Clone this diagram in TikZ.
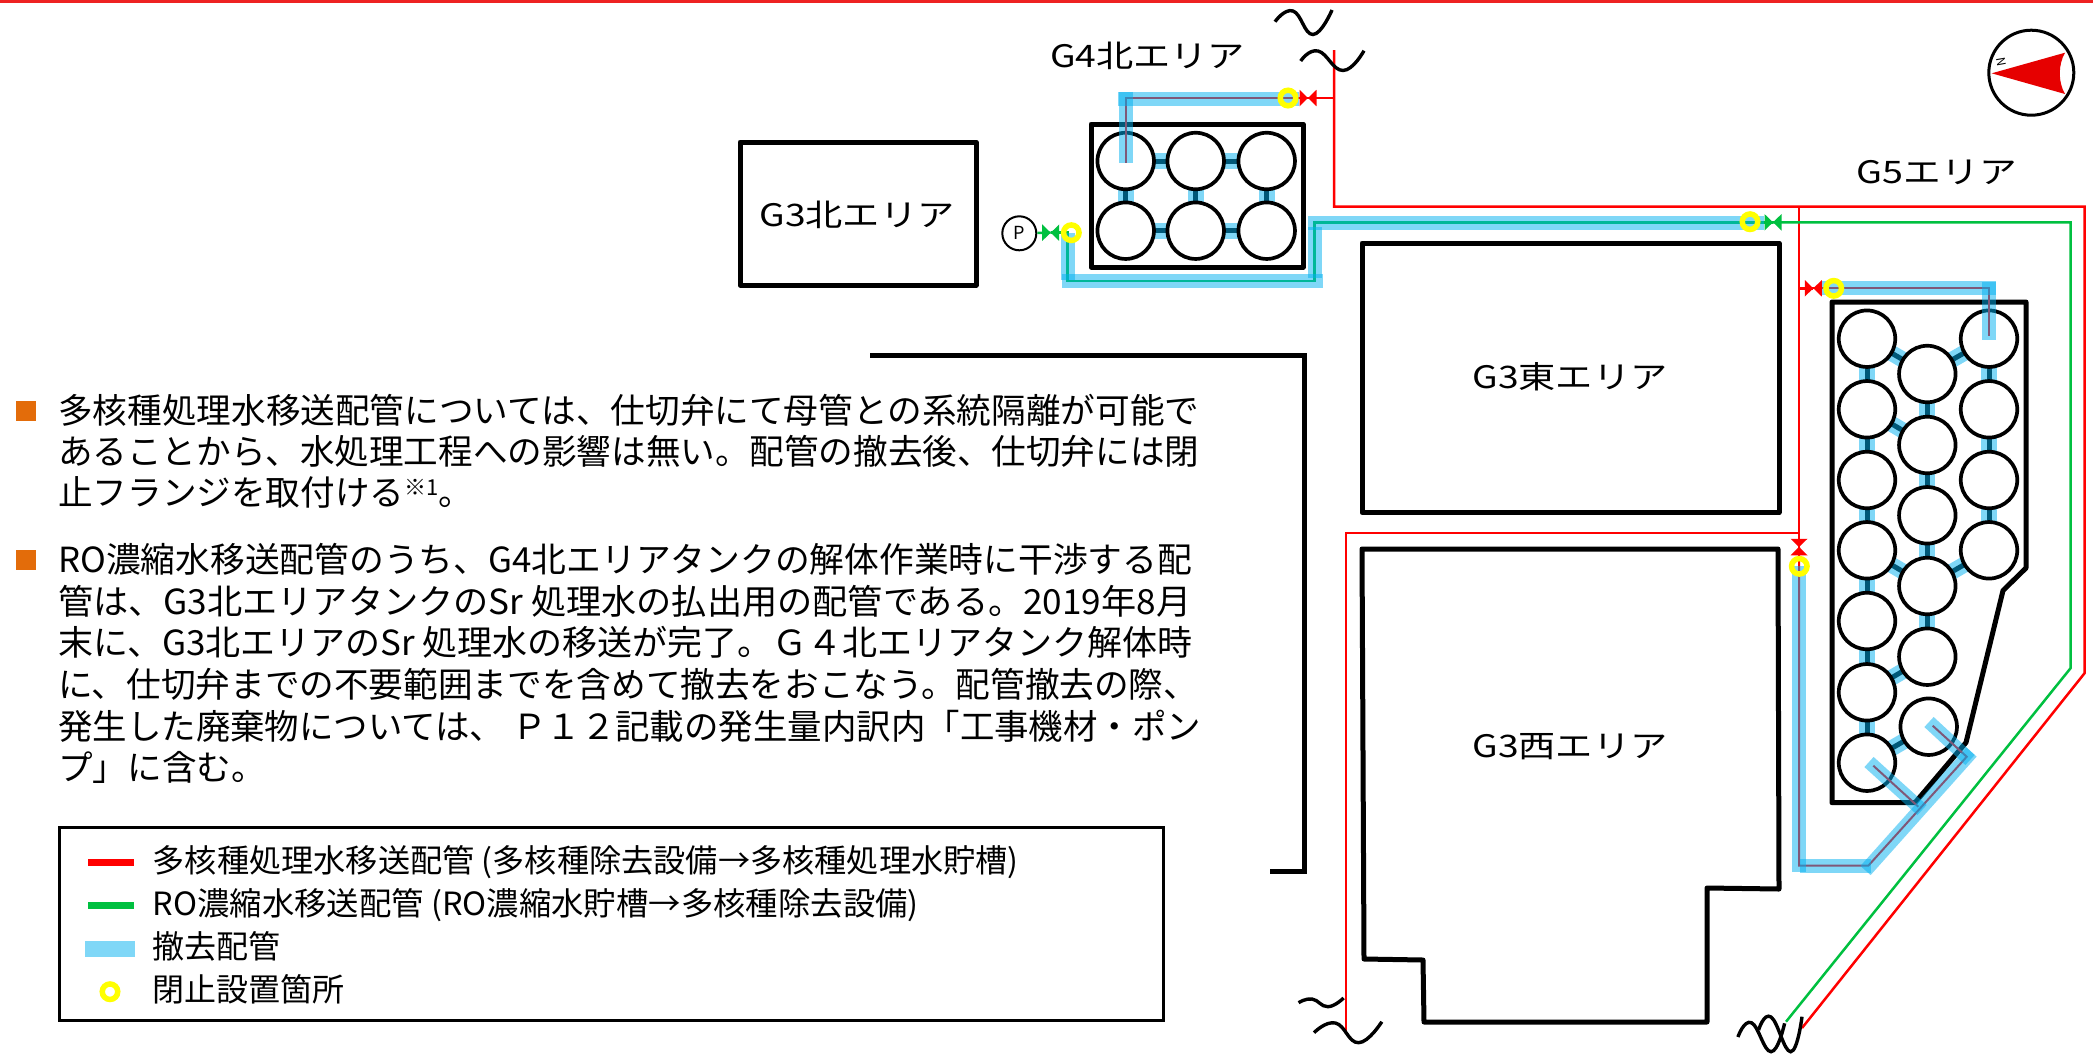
\documentclass[tikz,border=0pt]{standalone}
\usepackage{graphicx}
\usepackage{fontspec}
\setmainfont{Noto Sans CJK JP}
\usetikzlibrary{calc}
\definecolor{topred}{HTML}{EE2222}
\definecolor{pipered}{HTML}{FF0000}
\definecolor{pipegreen}{HTML}{00C040}
\definecolor{barblue}{HTML}{00B0F0}
\definecolor{ringyellow}{HTML}{FFFF00}
\definecolor{bulletorange}{HTML}{E36C0A}
\definecolor{compassred}{HTML}{E60000}
\newcommand{\bodyfont}{\fontsize{34.6}{40}\selectfont}
\newcommand{\legendfont}{\fontsize{32}{36}\selectfont}
\newcommand{\areafont}{\fontsize{31}{36}\selectfont}
\newcommand{\fitw}[2]{\resizebox{#1pt}{\height}{#2}}
\tikzset{
  x=1pt,y=-1pt,
  wall/.style={draw=black,line width=5pt,line join=round},
  tank/.style={circle,draw=black,fill=white,line width=3.7pt,minimum size=56.5pt,inner sep=0pt},
  linkcore/.style={draw=black,line width=5pt},
  linkbar/.style={draw=barblue,opacity=.5,line width=16pt},
  bar/.style={draw=barblue,opacity=.5,line width=13.7pt},
  redpipe/.style={draw=pipered,line width=2.5pt,line join=miter},
  greenpipe/.style={draw=pipegreen,line width=2.5pt,line join=miter},
  wave/.style={draw=black,line width=3.4pt},
  ring/.style={circle,draw=ringyellow,line width=5.5pt,minimum size=15.5pt,inner sep=0pt},
  valveH/.style={minimum width=17pt,minimum height=16.5pt,inner sep=0pt,outer sep=0pt,
    path picture={\fill[#1] (path picture bounding box.north west)--(path picture bounding box.south east)--(path picture bounding box.north east)--(path picture bounding box.south west)--cycle;}},
  valveV/.style={minimum width=17pt,minimum height=16.5pt,inner sep=0pt,outer sep=0pt,
    path picture={\fill[#1] (path picture bounding box.north west)--(path picture bounding box.north east)--(path picture bounding box.south west)--(path picture bounding box.south east)--cycle;}},
  bodytext/.style={anchor=base west,inner sep=0pt,text=black,font=\bodyfont},
  legendtext/.style={anchor=base west,inner sep=0pt,text=black,font=\legendfont},
  arealabel/.style={anchor=center,inner sep=0pt,text=black,font=\areafont},
  bullet/.style={fill=bulletorange,draw=none,minimum width=20pt,minimum height=20pt,inner sep=0pt},
}
\begin{document}
\begin{tikzpicture}
\useasboundingbox (0,0) rectangle (2093,1053);
\fill[white] (0,0) rectangle (2093,1053);
\fill[topred] (0,0) rectangle (2093,3);

% area outlines
\draw[wall] (1091,124) rectangle (1303,267);
\draw[wall] (740,142) rectangle (976,285);
\draw[wall] (1362,243) rectangle (1779,512.5);
\draw[wall] (1362,549) -- (1778,549) -- (1779,889) -- (1707,888) -- (1707,1022) -- (1424,1022) -- (1423,960) -- (1364,959) -- cycle;
\draw[wall] (1832,302) -- (2026,302) -- (2026,568) -- (2003,590.5) -- (1966,742.5) -- (1915,802.7) -- (1832,802.7) -- cycle;
\draw[wall,line join=miter] (870,355.7) -- (1304,355.7) -- (1304,871.7) -- (1270,871.7);

% tank positions
\foreach \n/\x/\y in {A1/1125.7/161,A2/1195.7/161,A3/1266.7/161,A4/1125.7/230.7,A5/1195.7/230.7,A6/1266.7/230.7,
  L1/1867/338.7,L2/1867/409.3,L3/1867/480,L4/1867/550.3,L5/1867/621,L6/1867/692.3,L7/1867/762.7,
  M1/1927.3/374,M2/1927.3/445,M3/1927.3/515.3,M4/1927.3/586,M5/1927.3/656.7,M6/1928.7/726.7,
  R1/1989/338.7,R2/1989/409.3,R3/1989/480,R4/1989/550.3}
  {\coordinate (\n) at (\x,\y);}
% links between tanks
\foreach \a/\b in {A1/A2,A2/A3,A4/A5,A5/A6,A1/A4,A2/A5,A3/A6,
  L1/L2,L2/L3,L3/L4,L4/L5,L5/L6,L6/L7,M1/M2,M2/M3,M3/M4,M4/M5,R1/R2,R2/R3,R3/R4,
  L1/M1,M1/R1,L2/M2,L4/M4,R4/M4,L6/M5,L7/M6}
  {\draw[linkcore] (\a) -- (\b); \draw[linkbar] (\a) -- (\b);}
% tanks
\foreach \n in {A1,A2,A3,A4,A5,A6,L1,L2,L3,L4,L5,L6,L7,M1,M2,M3,M4,M5,M6,R1,R2,R3,R4}
  {\node[tank] (t\n) at (\n) {};}

% valves and pump
\node[valveH=pipered] (vG4) at (1308,98) {};
\node[valveH=pipered] (vG5) at (1813.3,288.3) {};
\node[valveV=pipered] (vW) at (1799,547) {};
\node[valveH=pipegreen] (vP) at (1050.7,232.7) {};
\node[valveH=pipegreen] (vE) at (1773,222.3) {};
\node[circle,draw=black,line width=2pt,minimum size=34pt,inner sep=0pt,font=\fontsize{18}{18}\selectfont] (pump) at (1019.3,233.3) {P};

% junction coordinates
\coordinate (rTop) at (1334,50);
\coordinate (rA) at (1334,98);
\coordinate (rB) at (1334,206.7);
\coordinate (rC) at (2084.7,206.7);
\coordinate (rD) at (2084.7,673);
\coordinate (rEnd) at (1802,1028);
\coordinate (rS) at (1799,206.7);
\coordinate (rS1) at (1799,288.3);
\coordinate (rS2) at (1799,533);
\coordinate (rW) at (1346,533);
\coordinate (rWEnd) at (1346,1032);
\coordinate (gA) at (2070.7,222.3);
\coordinate (gB) at (2070.7,668);
\coordinate (gEnd) at (1786,1021.7);

% pipes in service and to be removed (under the blue bars)
\draw[redpipe] (rTop) -- (rB) -- (rC) -- (rD) -- (rEnd);
\draw[redpipe] (rA) -- (vG4.center);
\draw[redpipe,line width=2pt] (vG4.center) -- (1125.7,98) -- (1125.7,162.7);
\draw[redpipe,line width=2pt] (rS) -- (rS2) -- (rW) -- (rWEnd);
\draw[redpipe,line width=2pt] (rS2) -- (vW.center);
\draw[redpipe] (rS1) -- (vG5.center);
\draw[redpipe,line width=2pt] (vG5.center) -- (1988.7,288.3) -- (1988.7,335.7);
\draw[redpipe,line width=2pt] (vW.center) -- (1799,865.7) -- (1868.3,865.7) -- (1966.7,756.7) -- (1932.7,725.7);
\draw[redpipe,line width=2pt] (1918.3,806.7) -- (1873.3,765.7);
\draw[greenpipe] (vE.center) -- (gA) -- (gB) -- (gEnd);
\draw[greenpipe] (vE.center) -- (1314.3,222.3) -- (1314.3,281) -- (1067.7,281) -- (1067.7,232.7) -- (vP.center);
\draw[greenpipe] (pump) -- (vP.center);

% removal bars
\draw[bar] (1125.7,162.7) -- (1125.7,92);
\draw[bar] (1118.3,99) -- (1299,99);
\draw[bar] (1068.2,233) -- (1068.2,280);
\draw[bar] (1061.7,281.2) -- (1322.7,281.2);
\draw[bar] (1315.2,227) -- (1315.2,278.3);
\draw[bar] (1308.3,223) -- (1764,223);
\draw[bar] (1822,288.3) -- (1995.7,288.3);
\draw[bar] (1988.8,281.5) -- (1988.8,340);
\draw[bar] (1798.9,566) -- (1798.9,872.3);
\draw[bar] (1800,865.8) -- (1870.5,865.8);
\draw[bar] (1865.5,870.5) -- (1971.5,752);
\draw[bar] (1929,722) -- (1970,760);
\draw[bar] (1869,762) -- (1922,810);

% closure rings
\node[ring] (y1) at (1288,98) {};
\node[ring] (y2) at (1071.3,232.7) {};
\node[ring] (y3) at (1750,221.7) {};
\node[ring] (y4) at (1833.7,288.3) {};
\node[ring] (y5) at (1799.3,566.3) {};

% break marks
\draw[wave] plot[smooth,tension=.8] coordinates {(1275,21.7)(1293,11)(1313,34.5)(1332,10)};
\draw[wave] plot[smooth,tension=.8] coordinates {(1300.7,61)(1318,51)(1343,70.5)(1364,50.7)};
\draw[wave] plot[smooth,tension=.8] coordinates {(1298.6,1002.7)(1312,999)(1328,1006.7)(1343.6,998)};
\draw[wave] plot[smooth,tension=.8] coordinates {(1314,1032.7)(1335.4,1023)(1358.6,1042.7)(1381.8,1021.7)};
\draw[wave] plot[smooth,tension=.8] coordinates {(1737.9,1037)(1751.4,1022.7)(1771,1051.7)(1784.6,1023.3)};
\draw[wave] plot[smooth,tension=.8] coordinates {(1758.6,1030)(1771,1017)(1790.7,1051.7)(1802,1016.7)};

% compass
\fill[compassred] (1991.7,73.3) -- (2065,52.7) .. controls (2058,65) and (2058,82) .. (2065,94) -- cycle;
\node[circle,draw=black,line width=3pt,minimum size=85pt,inner sep=0pt] (compass) at (2031.3,72.7) {};
\node[inner sep=0pt,rotate=100,font=\fontsize{12}{12}\selectfont] (north) at (2001,62) {N};

% area labels
\node[arealabel] (lG4N) at (1147.5,56) {\fitw{195}{G4北エリア}};
\node[arealabel] (lG5) at (1936.7,172) {\fitw{160}{G5エリア}};
\node[arealabel] (lG3N) at (857,215) {\fitw{195}{G3北エリア}};
\node[arealabel] (lG3E) at (1570,376.5) {\fitw{195}{G3東エリア}};
\node[arealabel] (lG3W) at (1570,746.7) {\fitw{195}{G3西エリア}};

% body text
\node[bullet] (b1) at (26,411) {};
\node[bullet] (b2) at (26,560) {};
\node[bodytext] (p1a) at (58,423) {\fitw{1141}{多核種処理水移送配管については、仕切弁にて母管との系統隔離が可能で}};
\node[bodytext] (p1b) at (58,464) {\fitw{1141}{あることから、水処理工程への影響は無い。配管の撤去後、仕切弁には閉}};
\node[bodytext] (p1c) at (58,505) {止フランジを取付ける\raisebox{10pt}{\fontsize{22}{22}\selectfont ※1}。};
\node[bodytext] (p2a) at (58,572.5) {\fitw{1134}{RO濃縮水移送配管のうち、G4北エリアタンクの解体作業時に干渉する配}};
\node[bodytext] (p2b) at (58,614.5) {\fitw{1133}{管は、G3北エリアタンクのSr 処理水の払出用の配管である。2019年8月}};
\node[bodytext] (p2c) at (58,655.5) {\fitw{1134}{末に、G3北エリアのSr 処理水の移送が完了。Ｇ４北エリアタンク解体時}};
\node[bodytext] (p2d) at (58,697.5) {\fitw{1140}{に、仕切弁までの不要範囲までを含めて撤去をおこなう。配管撤去の際、}};
\node[bodytext] (p2e) at (58,739) {\fitw{1143}{発生した廃棄物については、 Ｐ１２記載の発生量内訳内「工事機材・ポン}};
\node[bodytext] (p2f) at (58,780) {プ」に含む。};

% legend
\node[draw=black,line width=3pt,minimum width=1104pt,minimum height=193pt,anchor=north west,inner sep=0pt] (legend) at (58,826) {};
\coordinate (lr1) at (88,862.3); \coordinate (lr2) at (134,862.3);
\coordinate (lg1) at (88,905.3); \coordinate (lg2) at (134,905.3);
\coordinate (lb1) at (85,949); \coordinate (lb2) at (135,949);
\draw[draw=pipered,line width=6.5pt] (lr1) -- (lr2);
\draw[draw=pipegreen,line width=6.5pt] (lg1) -- (lg2);
\draw[bar,line width=15.7pt] (lb1) -- (lb2);
\node[ring] (ly) at (110,991.7) {};
\node[legendtext] (t1) at (152.5,872) {\fitw{866}{多核種処理水移送配管 (多核種除去設備→多核種処理水貯槽)}};
\node[legendtext] (t2) at (152.5,915) {\fitw{766}{RO濃縮水移送配管 (RO濃縮水貯槽→多核種除去設備)}};
\node[legendtext] (t3) at (152.5,958) {撤去配管};
\node[legendtext] (t4) at (152.5,1001) {閉止設置箇所};
\end{tikzpicture}
\end{document}
